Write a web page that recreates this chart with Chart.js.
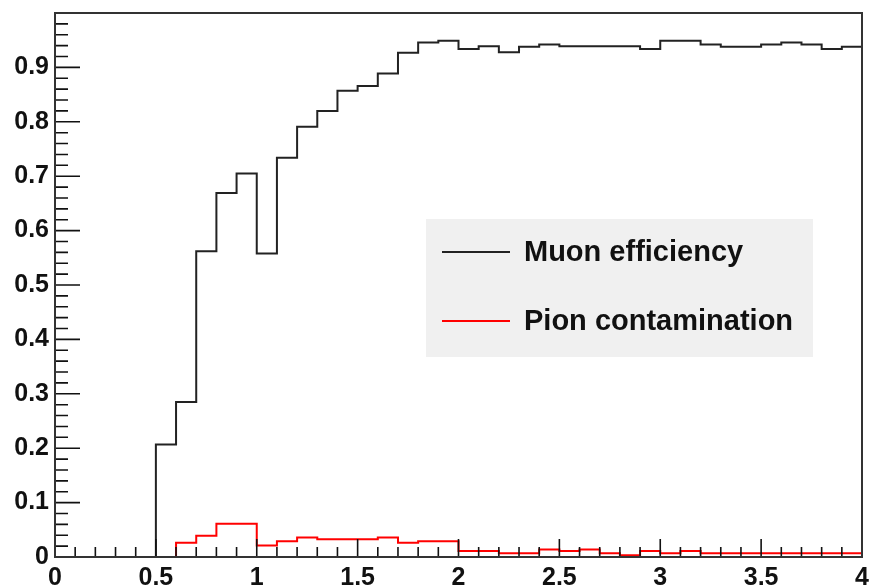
<!DOCTYPE html>
<html>
<head>
<meta charset="utf-8">
<script src="https://cdn.jsdelivr.net/npm/chart.js@4"></script>
<style>
  body { margin: 0; background: #fff; }
</style>
</head>
<body>
<canvas id="effChart" width="869" height="585"></canvas>
<script>
// bin edges (momentum), 40 bins of 0.1
const binEdges = [0, 0.1, 0.2, 0.3, 0.4, 0.5, 0.6, 0.7, 0.8, 0.9,
  1.0, 1.1, 1.2, 1.3, 1.4, 1.5, 1.6, 1.7, 1.8, 1.9,
  2.0, 2.1, 2.2, 2.3, 2.4, 2.5, 2.6, 2.7, 2.8, 2.9,
  3.0, 3.1, 3.2, 3.3, 3.4, 3.5, 3.6, 3.7, 3.8, 3.9, 4.0];

const muonEff = [0, 0, 0, 0, 0, 0.207, 0.285, 0.562, 0.669, 0.705,
  0.558, 0.734, 0.791, 0.820, 0.857, 0.866, 0.889, 0.927, 0.946, 0.949,
  0.934, 0.939, 0.928, 0.938, 0.942, 0.939, 0.939, 0.939, 0.939, 0.934,
  0.949, 0.949, 0.942, 0.938, 0.938, 0.942, 0.946, 0.942, 0.934, 0.938];

const pionCont = [0, 0, 0, 0, 0, 0, 0.026, 0.039, 0.061, 0.061,
  0.021, 0.029, 0.036, 0.0325, 0.0325, 0.0325, 0.036, 0.026, 0.029, 0.029,
  0.011, 0.011, 0.007, 0.007, 0.014, 0.011, 0.014, 0.007, 0.003, 0.011,
  0.007, 0.011, 0.007, 0.007, 0.007, 0.007, 0.007, 0.007, 0.007, 0.007];

const seriesLabels = ['Muon efficiency', 'Pion contamination'];
const seriesColors = ['#222222', '#ff0000'];

// histogram -> step points at the low edge, last point repeated at upper edge
function histPoints(vals) {
  const pts = vals.map((v, i) => ({ x: binEdges[i], y: v }));
  pts.push({ x: binEdges[binEdges.length - 1], y: vals[vals.length - 1] });
  return pts;
}

const labelFont = { family: '"Liberation Sans", Arial, sans-serif', size: 25, weight: 'bold' };

function noPad(s) {
  s.paddingTop = 0; s.paddingBottom = 0; s.paddingLeft = 0; s.paddingRight = 0;
}

// frame, inside tick marks and the legend box
const rootStyle = {
  id: 'rootStyle',
  afterDatasetsDraw(chart) {
    const ctx = chart.ctx;
    const a = chart.chartArea;
    const xs = chart.scales.x, ys = chart.scales.y;
    ctx.save();
    ctx.strokeStyle = '#111';
    ctx.lineWidth = 1.6;
    ctx.beginPath();
    for (let i = 0; i <= 40; i++) {
      const px = xs.getPixelForValue(i / 10);
      const len = (i % 5 === 0) ? 18 : 10;
      ctx.moveTo(px, a.bottom);
      ctx.lineTo(px, a.bottom - len);
    }
    for (let i = 0; i <= 50; i++) {
      const py = ys.getPixelForValue(i / 50);
      const len = (i % 5 === 0) ? 25 : 13;
      ctx.moveTo(a.left, py);
      ctx.lineTo(a.left + len, py);
    }
    ctx.stroke();

    ctx.strokeStyle = '#333';
    ctx.lineWidth = 2;
    ctx.strokeRect(a.left, a.top, a.right - a.left, a.bottom - a.top);

    // legend
    ctx.fillStyle = '#f0f0f0';
    ctx.fillRect(426, 219, 387, 138);
    const rows = [252, 321];
    ctx.font = 'bold 29px "Liberation Sans", Arial, sans-serif';
    ctx.textBaseline = 'middle';
    rows.forEach((y, i) => {
      ctx.strokeStyle = seriesColors[i];
      ctx.lineWidth = 2;
      ctx.beginPath();
      ctx.moveTo(442, y);
      ctx.lineTo(510, y);
      ctx.stroke();
      ctx.fillStyle = '#111';
      ctx.fillText(seriesLabels[i], 524, y + 1);
    });
    ctx.restore();
  }
};

new Chart(document.getElementById('effChart'), {
  type: 'line',
  data: {
    datasets: [{
      label: seriesLabels[0],
      data: histPoints(muonEff),
      borderColor: seriesColors[0],
      borderWidth: 2,
      stepped: true,
      pointRadius: 0,
      fill: false,
      order: 1
    }, {
      label: seriesLabels[1],
      data: histPoints(pionCont),
      borderColor: seriesColors[1],
      borderWidth: 2,
      stepped: true,
      pointRadius: 0,
      fill: false,
      order: 0
    }]
  },
  options: {
    responsive: false,
    animation: false,
    layout: { padding: { left: 0, top: 13, right: 7, bottom: 0 } },
    plugins: {
      legend: { display: false },
      tooltip: { enabled: false }
    },
    scales: {
      x: {
        type: 'linear',
        min: 0,
        max: 4,
        grid: { display: false, drawTicks: false },
        border: { display: false },
        afterFit: s => { s.height = 28; noPad(s); },
        ticks: {
          stepSize: 0.5,
          padding: 6,
          maxRotation: 0,
          color: '#111',
          font: labelFont,
          callback: v => String(Math.round(v * 10) / 10)
        }
      },
      y: {
        min: 0,
        max: 1,
        grid: { display: false, drawTicks: false },
        border: { display: false },
        afterFit: s => { s.width = 55; noPad(s); },
        ticks: {
          stepSize: 0.1,
          padding: 6,
          color: '#111',
          font: labelFont,
          callback: v => v > 0.95 ? '' : (v === 0 ? '0' : v.toFixed(1))
        }
      }
    }
  },
  plugins: [rootStyle]
});
</script>
</body>
</html>
